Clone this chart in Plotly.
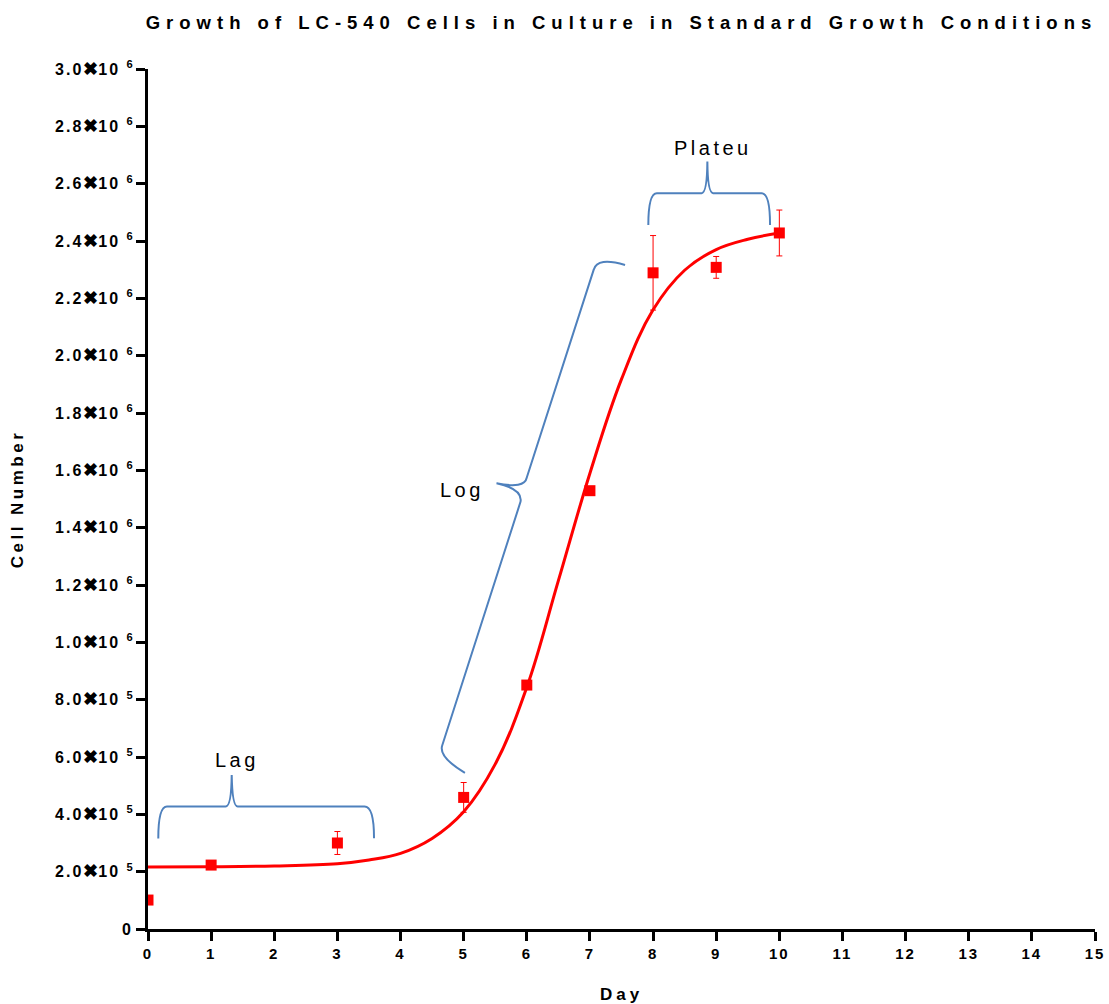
import plotly.graph_objects as go

# Data
days = [0, 1, 3, 5, 6, 7, 8, 9, 10]
cells = [1.01e5, 2.23e5, 3.00e5, 4.59e5, 8.51e5, 1.529e6, 2.289e6, 2.308e6, 2.428e6]
cell_err = [0, 0, 0.04e6, 0.052e6, 0, 0, 0.13e6, 0.038e6, 0.08e6]

# fitted curve
fit_days = [0, 1, 2, 3, 3.5, 4, 4.5, 5, 5.5, 6, 6.5, 7, 7.5, 8, 8.5, 9, 9.5, 10]
fit_cells = [0.216e6, 0.217e6, 0.220e6, 0.228e6, 0.241e6, 0.264e6, 0.316e6, 0.409e6,
             0.575e6, 0.843e6, 1.215e6, 1.590e6, 1.918e6, 2.160e6, 2.298e6, 2.370e6,
             2.406e6, 2.428e6]

y_tickvals = [0, 2e5, 4e5, 6e5, 8e5, 1e6, 1.2e6, 1.4e6, 1.6e6, 1.8e6, 2.0e6, 2.2e6,
              2.4e6, 2.6e6, 2.8e6, 3.0e6]
y_mant = ["0", "2.0", "4.0", "6.0", "8.0", "1.0", "1.2", "1.4", "1.6", "1.8", "2.0",
          "2.2", "2.4", "2.6", "2.8", "3.0"]
y_exp = [None, 5, 5, 5, 5, 6, 6, 6, 6, 6, 6, 6, 6, 6, 6, 6]
x_tickvals = list(range(0, 16))

title_text = "Growth of LC-540 Cells in Culture in Standard Growth Conditions"

FONT = "Liberation Sans, Arial, sans-serif"
BRACE = "#4F81BD"


def ls(text, px):
    return f"<span style='letter-spacing:{px}px'>{text}</span>"


y_ticktext = []
for m, e in zip(y_mant, y_exp):
    if e is None:
        y_ticktext.append(ls(m, 2))
    else:
        y_ticktext.append(ls(f"{m}", 2) + "<span style='font-size:18px'>✖</span>"
                          + ls("10 ", 2) + f"<sup>{e}</sup>")

fig = go.Figure()

fig.add_trace(go.Scatter(
    x=fit_days, y=fit_cells, mode="lines",
    line=dict(color="#FF0000", width=3, shape="spline", smoothing=1.1),
    hoverinfo="skip", showlegend=False))

fig.add_trace(go.Scatter(
    x=days, y=cells, mode="markers",
    marker=dict(symbol="square", size=11, color="#FF0000"),
    error_y=dict(type="data", array=cell_err, visible=True, color="#FF0000",
                 thickness=1, width=3),
    showlegend=False))

# Braces (annotation decorations)
lag_path = ("M 0.163,316000 Q 0.163,427000 0.30,427000 L 1.23,427000 "
            "Q 1.32,427000 1.326,537000 Q 1.335,427000 1.42,427000 L 3.43,427000 "
            "Q 3.58,427000 3.58,317000")
plat_path = ("M 7.925,2456000 Q 7.925,2567000 8.06,2567000 L 8.77,2567000 "
             "Q 8.855,2567000 8.86,2677000 Q 8.865,2567000 8.95,2567000 L 9.72,2567000 "
             "Q 9.853,2567000 9.853,2456000")
log_path = ("M 5.02,545000 Q 4.60,600000 4.66,640000 L 5.90,1490000 "
            "Q 5.94,1535000 5.52,1555000 Q 5.965,1535000 6.00,1575000 L 7.06,2300000 "
            "Q 7.12,2345000 7.556,2316000")
for p in (lag_path, plat_path, log_path):
    fig.add_shape(type="path", path=p, xref="x", yref="y",
                  line=dict(color=BRACE, width=2))

for txt, xx, yy in [("Lag", 1.41, 0.59e6), ("Log", 4.97, 1.531e6), ("Plateu", 8.95, 2.724e6)]:
    fig.add_annotation(x=xx, y=yy, xref="x", yref="y", text=ls(txt, 3.5), showarrow=False,
                       font=dict(family=FONT, size=20, color="black"))

fig.update_layout(
    width=1109, height=1004,
    margin=dict(l=148, r=14, t=69, b=75, autoexpand=False),
    plot_bgcolor="white", paper_bgcolor="white",
    title=dict(text="<b>" + ls(title_text, 6.0) + "</b>", x=0.5, xref="paper",
               y=0.978, yref="container", yanchor="middle",
               font=dict(family=FONT, size=18.5, color="black")),
    font=dict(family=FONT, color="black"),
)

fig.update_xaxes(
    range=[0, 15], tickvals=x_tickvals, ticktext=[ls(str(v), 2) for v in x_tickvals],
    automargin=False,
    showgrid=False, zeroline=False, showline=True, linecolor="black", linewidth=3,
    ticks="outside", ticklen=9, tickwidth=3, tickcolor="black",
    tickfont=dict(family=FONT, size=15, color="black", weight="bold"),
    title=dict(text="<b>" + ls("Day", 4) + "</b>", font=dict(family=FONT, size=17, color="black"),
               standoff=30),
)
fig.update_yaxes(
    range=[0, 3e6], tickvals=y_tickvals, ticktext=y_ticktext,
    automargin=False,
    showgrid=False, zeroline=False, showline=True, linecolor="black", linewidth=3,
    ticks="outside", ticklen=9, tickwidth=3, tickcolor="black",
    tickfont=dict(family=FONT, size=16, color="black", weight="bold"),
    title=dict(text="<b>" + ls("Cell Number", 3.5) + "</b>", font=dict(family=FONT, size=17, color="black"),
               standoff=28),
)

fig.write_html("out.html")
